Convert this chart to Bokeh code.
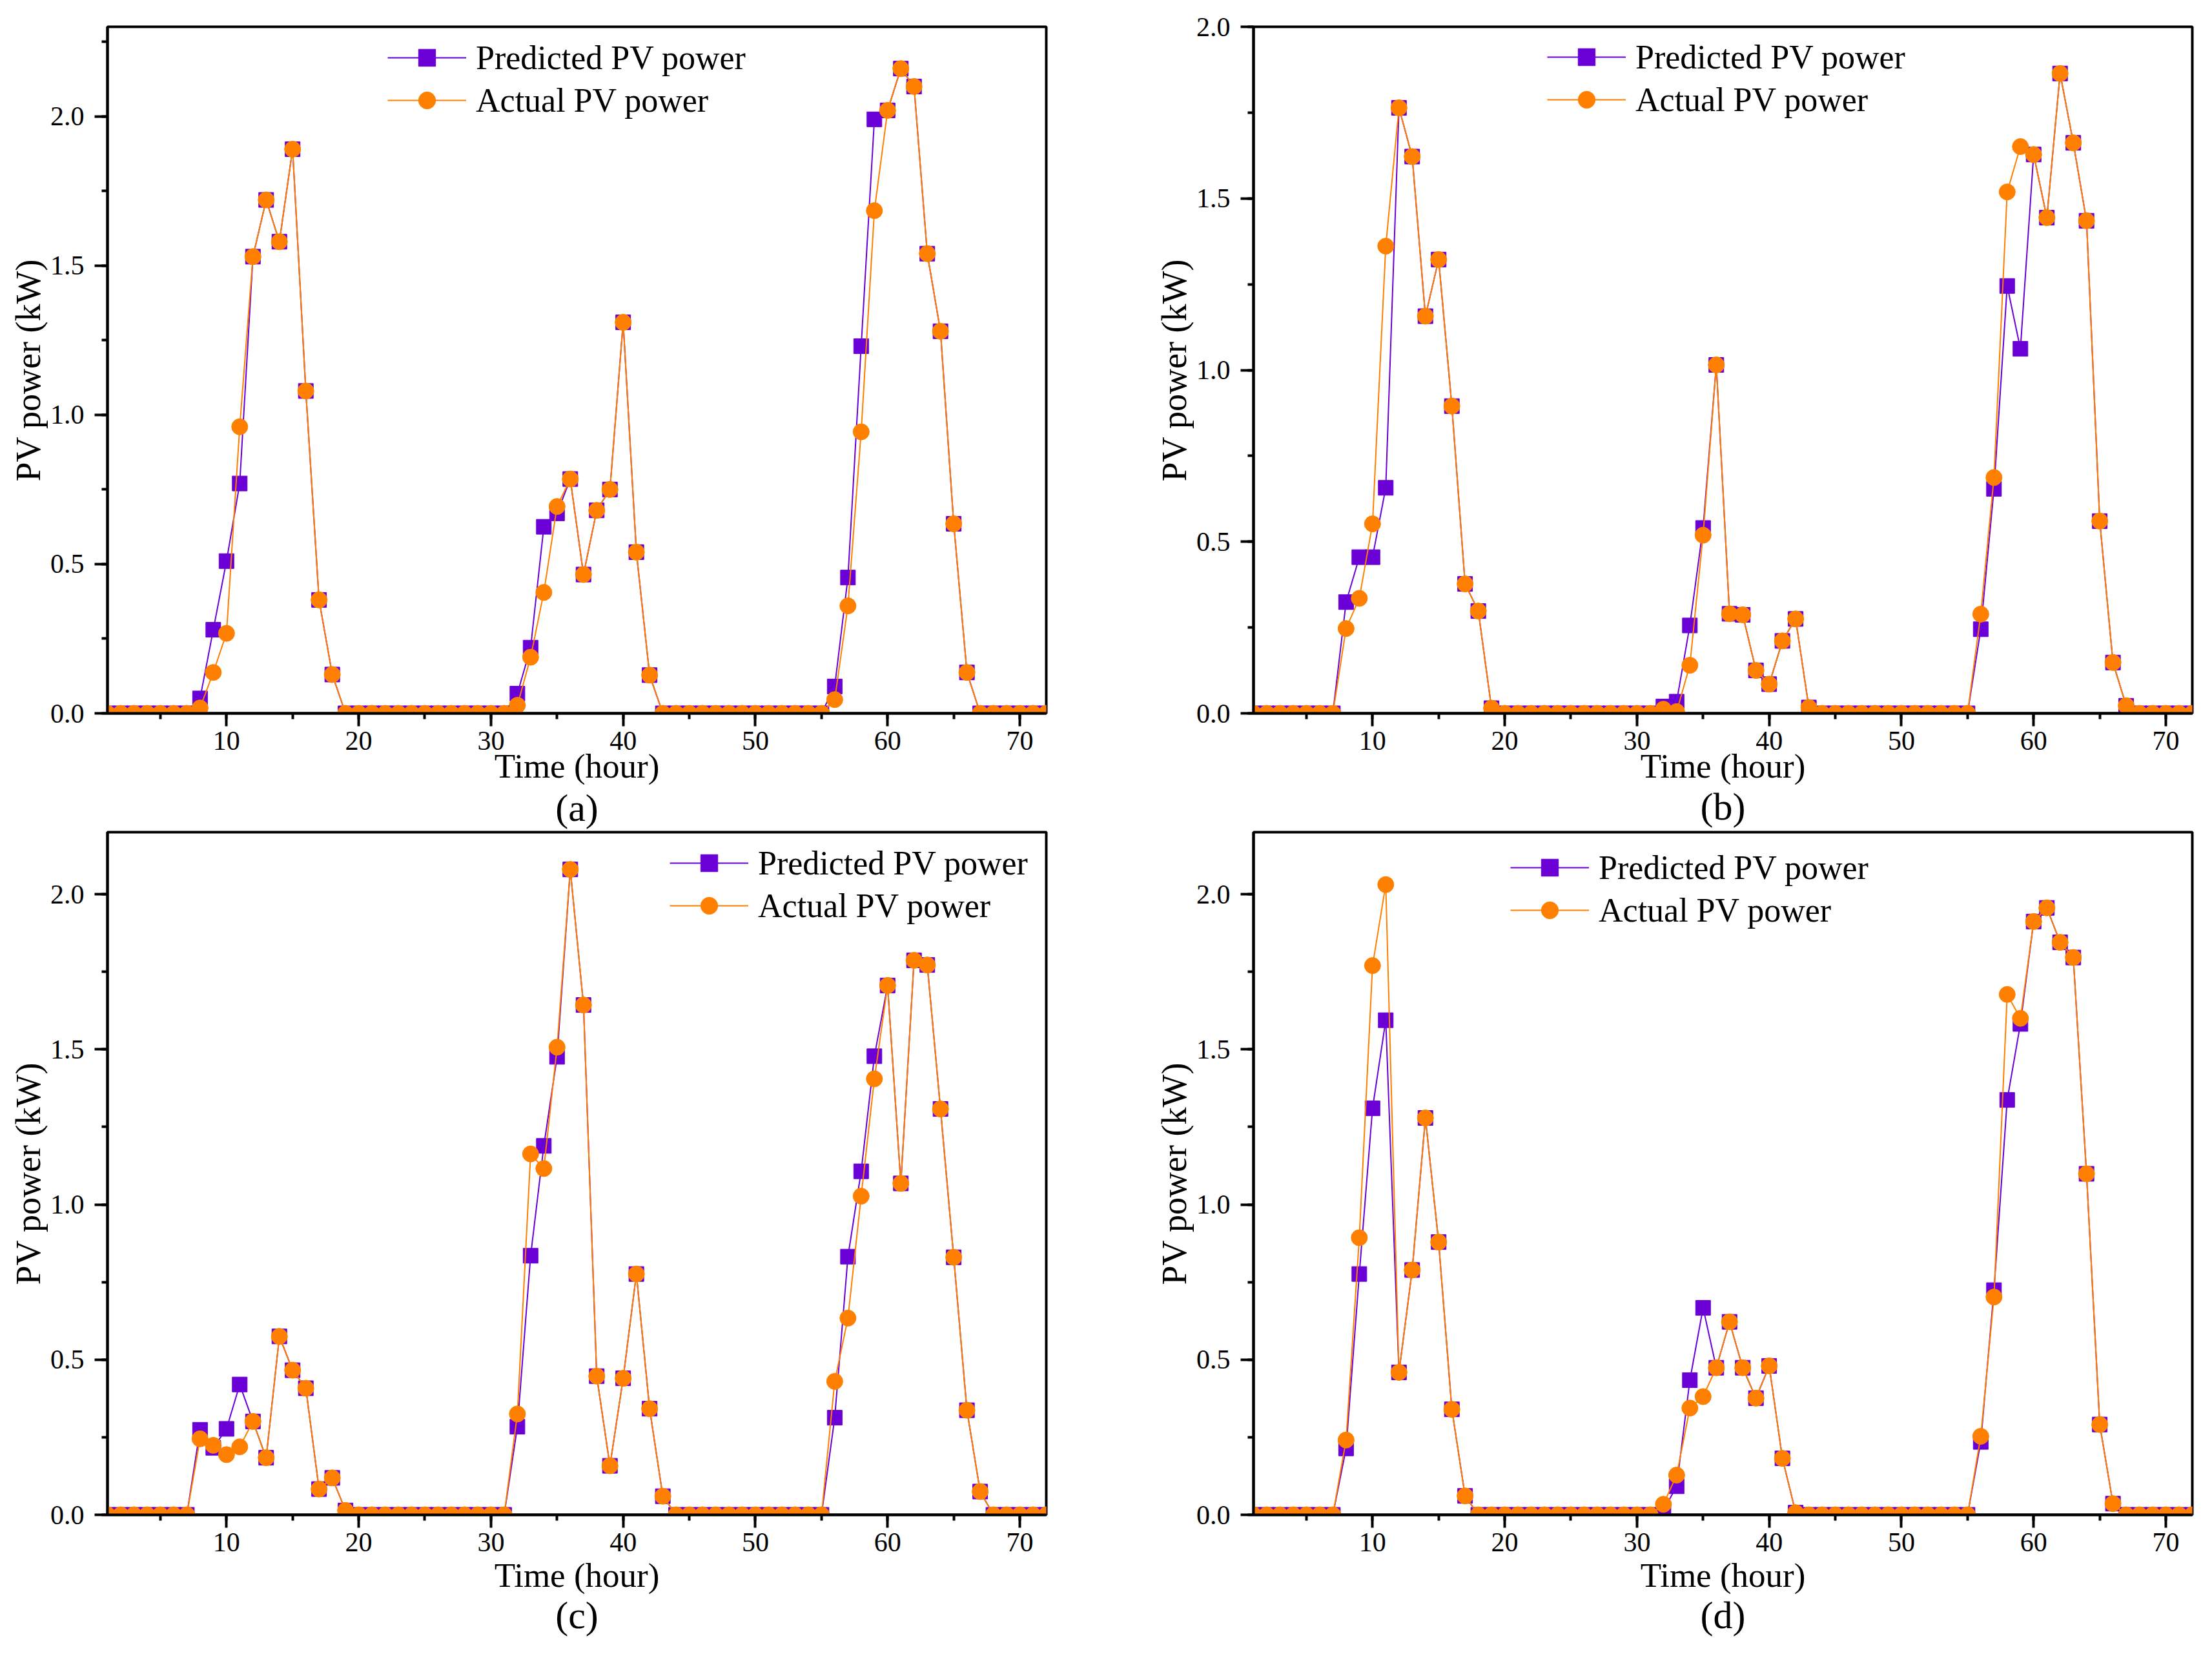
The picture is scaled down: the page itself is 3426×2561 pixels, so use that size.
from bokeh.plotting import figure
from bokeh.models import (Range1d, SingleIntervalTicker, NumeralTickFormatter,
                          FixedTicker, LinearAxis, Legend, LegendItem,
                          ColumnDataSource)
from bokeh.layouts import column, row
from bokeh.embed import file_html
from bokeh.resources import INLINE

# ---------------- data ----------------
hours = list(range(1, 73))

pred_a = [0.0, 0.0, 0.0, 0.0, 0.0, 0.0, 0.0,
          0.05, 0.28, 0.51, 0.77, 1.53, 1.72, 1.58, 1.89, 1.08, 0.38, 0.13,
          0.0, 0.0, 0.0, 0.0, 0.0, 0.0, 0.0, 0.0, 0.0, 0.0, 0.0, 0.0, 0.0,
          0.066, 0.22, 0.625, 0.67, 0.785, 0.465, 0.68, 0.75, 1.31, 0.54, 0.128,
          0.0, 0.0, 0.0, 0.0, 0.0, 0.0, 0.0, 0.0, 0.0, 0.0, 0.0, 0.0, 0.0,
          0.09, 0.455, 1.23, 1.99, 2.02, 2.16, 2.10, 1.54, 1.28, 0.635, 0.137,
          0.0, 0.0, 0.0, 0.0, 0.0, 0.0]
act_a = [0.0, 0.0, 0.0, 0.0, 0.0, 0.0, 0.0,
         0.018, 0.137, 0.268, 0.96, 1.53, 1.72, 1.58, 1.89, 1.08, 0.38, 0.13,
         0.0, 0.0, 0.0, 0.0, 0.0, 0.0, 0.0, 0.0, 0.0, 0.0, 0.0, 0.0, 0.0,
         0.027, 0.188, 0.405, 0.693, 0.785, 0.465, 0.68, 0.75, 1.31, 0.54, 0.128,
         0.0, 0.0, 0.0, 0.0, 0.0, 0.0, 0.0, 0.0, 0.0, 0.0, 0.0, 0.0, 0.0,
         0.046, 0.36, 0.943, 1.684, 2.02, 2.16, 2.10, 1.54, 1.28, 0.635, 0.137,
         0.0, 0.0, 0.0, 0.0, 0.0, 0.0]

pred_b = [0.0, 0.0, 0.0, 0.0, 0.0, 0.0, 0.0,
          0.324, 0.455, 0.455, 0.657, 1.764, 1.622, 1.157, 1.322, 0.895, 0.377, 0.298, 0.015,
          0.0, 0.0, 0.0, 0.0, 0.0, 0.0, 0.0, 0.0, 0.0, 0.0, 0.0, 0.0,
          0.02, 0.034, 0.256, 0.54, 1.015, 0.29, 0.287, 0.125, 0.085, 0.211, 0.275, 0.017,
          0.0, 0.0, 0.0, 0.0, 0.0, 0.0, 0.0, 0.0, 0.0, 0.0, 0.0, 0.0,
          0.245, 0.654, 1.245, 1.062, 1.628, 1.444, 1.864, 1.662, 1.435, 0.56, 0.148, 0.022,
          0.0, 0.0, 0.0, 0.0, 0.0]
act_b = [0.0, 0.0, 0.0, 0.0, 0.0, 0.0, 0.0,
         0.247, 0.335, 0.552, 1.361, 1.764, 1.622, 1.157, 1.322, 0.895, 0.377, 0.298, 0.015,
         0.0, 0.0, 0.0, 0.0, 0.0, 0.0, 0.0, 0.0, 0.0, 0.0, 0.0, 0.0,
         0.012, 0.005, 0.14, 0.519, 1.015, 0.29, 0.287, 0.125, 0.085, 0.211, 0.275, 0.017,
         0.0, 0.0, 0.0, 0.0, 0.0, 0.0, 0.0, 0.0, 0.0, 0.0, 0.0, 0.0,
         0.289, 0.687, 1.519, 1.651, 1.628, 1.444, 1.864, 1.662, 1.435, 0.56, 0.148, 0.022,
         0.0, 0.0, 0.0, 0.0, 0.0]

pred_c = [0.0, 0.0, 0.0, 0.0, 0.0, 0.0, 0.0,
          0.274, 0.216, 0.277, 0.42, 0.301, 0.184, 0.575, 0.466, 0.408, 0.083, 0.119, 0.014,
          0.0, 0.0, 0.0, 0.0, 0.0, 0.0, 0.0, 0.0, 0.0, 0.0, 0.0, 0.0,
          0.284, 0.835, 1.189, 1.476, 2.08, 1.643, 0.447, 0.158, 0.44, 0.776, 0.342, 0.06,
          0.0, 0.0, 0.0, 0.0, 0.0, 0.0, 0.0, 0.0, 0.0, 0.0, 0.0, 0.0,
          0.313, 0.832, 1.107, 1.478, 1.706, 1.068, 1.787, 1.772, 1.308, 0.83, 0.337, 0.075,
          0.0, 0.0, 0.0, 0.0, 0.0]
act_c = [0.0, 0.0, 0.0, 0.0, 0.0, 0.0, 0.0,
         0.245, 0.224, 0.194, 0.219, 0.301, 0.184, 0.575, 0.466, 0.408, 0.083, 0.119, 0.014,
         0.0, 0.0, 0.0, 0.0, 0.0, 0.0, 0.0, 0.0, 0.0, 0.0, 0.0, 0.0,
         0.325, 1.163, 1.116, 1.507, 2.08, 1.643, 0.447, 0.158, 0.44, 0.776, 0.342, 0.06,
         0.0, 0.0, 0.0, 0.0, 0.0, 0.0, 0.0, 0.0, 0.0, 0.0, 0.0, 0.0,
         0.43, 0.634, 1.027, 1.405, 1.706, 1.068, 1.787, 1.772, 1.308, 0.83, 0.337, 0.075,
         0.0, 0.0, 0.0, 0.0, 0.0]

pred_d = [0.0, 0.0, 0.0, 0.0, 0.0, 0.0, 0.0,
          0.214, 0.776, 1.31, 1.594, 0.459, 0.789, 1.279, 0.879, 0.34, 0.061,
          0.0, 0.0, 0.0, 0.0, 0.0, 0.0, 0.0, 0.0, 0.0, 0.0, 0.0, 0.0, 0.0, 0.0,
          0.014, 0.092, 0.434, 0.667, 0.474, 0.622, 0.474, 0.376, 0.48, 0.182, 0.007,
          0.0, 0.0, 0.0, 0.0, 0.0, 0.0, 0.0, 0.0, 0.0, 0.0, 0.0, 0.0, 0.0,
          0.235, 0.724, 1.337, 1.582, 1.912, 1.956, 1.845, 1.796, 1.099, 0.291, 0.036,
          0.0, 0.0, 0.0, 0.0, 0.0, 0.0]
act_d = [0.0, 0.0, 0.0, 0.0, 0.0, 0.0, 0.0,
         0.241, 0.893, 1.77, 2.031, 0.459, 0.789, 1.279, 0.879, 0.34, 0.061,
         0.0, 0.0, 0.0, 0.0, 0.0, 0.0, 0.0, 0.0, 0.0, 0.0, 0.0, 0.0, 0.0, 0.0,
         0.034, 0.128, 0.344, 0.381, 0.474, 0.622, 0.474, 0.376, 0.48, 0.182, 0.007,
         0.0, 0.0, 0.0, 0.0, 0.0, 0.0, 0.0, 0.0, 0.0, 0.0, 0.0, 0.0, 0.0,
         0.253, 0.702, 1.677, 1.6, 1.912, 1.956, 1.845, 1.796, 1.099, 0.291, 0.036,
         0.0, 0.0, 0.0, 0.0, 0.0, 0.0]

y_max = [2.3, 2.0, 2.2, 2.2]
captions = ["(a)", "(b)", "(c)", "(d)"]
series_names = ["Predicted PV power", "Actual PV power"]
x_title = "Time (hour)"
y_title = "PV power (kW)"

# ---------------- styling ----------------
FONT = "Liberation Serif"
PURPLE = "#6A00D6"
ORANGE = "#FF8000"


def make_panel(pred, act, ymax, caption, width, height, bl, br, bt, bb,
               legend_xy, xlabel_standoff, cap_standoff):
    p = figure(width=width, height=height, output_backend="svg",
               toolbar_location=None, x_range=Range1d(1, 72),
               y_range=Range1d(0, ymax),
               min_border_left=bl, min_border_right=br,
               min_border_top=bt, min_border_bottom=bb)
    p.xgrid.visible = False
    p.ygrid.visible = False
    p.outline_line_color = "black"
    p.outline_line_width = 4
    p.outline_line_alpha = 1.0
    p.background_fill_color = "white"
    p.border_fill_color = "white"

    src = ColumnDataSource(dict(t=hours, pred=pred, act=act))
    l1 = p.line("t", "pred", source=src, line_color=PURPLE, line_width=2)
    s1 = p.scatter("t", "pred", source=src, marker="square", size=23,
                   fill_color=PURPLE, line_color=PURPLE)
    l2 = p.line("t", "act", source=src, line_color=ORANGE, line_width=2)
    s2 = p.scatter("t", "act", source=src, marker="circle", size=25,
                   fill_color=ORANGE, line_color=ORANGE)

    xa = p.xaxis[0]
    xa.ticker = SingleIntervalTicker(interval=10, num_minor_ticks=2)
    ya = p.yaxis[0]
    ya.ticker = SingleIntervalTicker(interval=0.5, num_minor_ticks=2)
    ya.formatter = NumeralTickFormatter(format="0.0")
    for ax in (xa, ya):
        ax.axis_line_width = 4
        ax.major_tick_line_width = 4
        ax.minor_tick_line_width = 4
        ax.major_tick_in = 0
        ax.major_tick_out = 20
        ax.minor_tick_in = 0
        ax.minor_tick_out = 9
        ax.major_label_text_font = FONT
        ax.major_label_text_font_size = "42px"
        ax.major_label_text_color = "black"
        ax.axis_label_text_font = FONT
        ax.axis_label_text_font_style = "normal"
        ax.axis_label_text_color = "black"
    xa.axis_label = x_title
    xa.axis_label_text_font_size = "53px"
    xa.major_label_standoff = 8
    xa.axis_label_standoff = xlabel_standoff
    ya.axis_label = y_title
    ya.axis_label_text_font_size = "54px"
    ya.major_label_standoff = 16
    ya.axis_label_standoff = 1

    # panel caption, drawn as the label of a bare axis stacked below the x axis
    cap = LinearAxis(axis_label=caption, ticker=FixedTicker(ticks=[]),
                     axis_line_color=None, major_tick_line_color=None,
                     minor_tick_line_color=None, major_tick_out=0,
                     major_tick_in=0, minor_tick_out=0, minor_tick_in=0,
                     major_label_standoff=0,
                     major_label_text_font_size="0px",
                     axis_label_standoff=cap_standoff,
                     axis_label_text_font=FONT,
                     axis_label_text_font_style="normal",
                     axis_label_text_font_size="60px",
                     axis_label_text_color="black")
    p.add_layout(cap, "below")

    legend = Legend(items=[LegendItem(label=series_names[0], renderers=[l1, s1]),
                           LegendItem(label=series_names[1], renderers=[l2, s2])],
                    location=legend_xy, orientation="vertical",
                    glyph_width=122, glyph_height=66, label_height=66,
                    label_standoff=15, spacing=0, padding=0, margin=0,
                    label_text_font=FONT, label_text_font_size="52px",
                    label_text_color="black",
                    border_line_alpha=0, background_fill_alpha=0)
    p.add_layout(legend)
    return p


pa = make_panel(pred_a, act_a, y_max[0], captions[0], 1741, 1286,
                166, 121, 41, 182, (434, 916), -7, 0)
pb = make_panel(pred_b, act_b, y_max[1], captions[1], 1669, 1286,
                200, 15, 41, 182, (455, 917), -7, -2)
pc = make_panel(pred_c, act_c, y_max[2], captions[2], 1741, 1259,
                166, 121, 2, 200, (871, 910), 5, -3)
pd = make_panel(pred_d, act_d, y_max[3], captions[3], 1669, 1259,
                200, 15, 2, 200, (398, 903), 5, -3)

layout = column(row(pa, pb), row(pc, pd))

with open("out.html", "w") as f:
    f.write(file_html(layout, INLINE))
